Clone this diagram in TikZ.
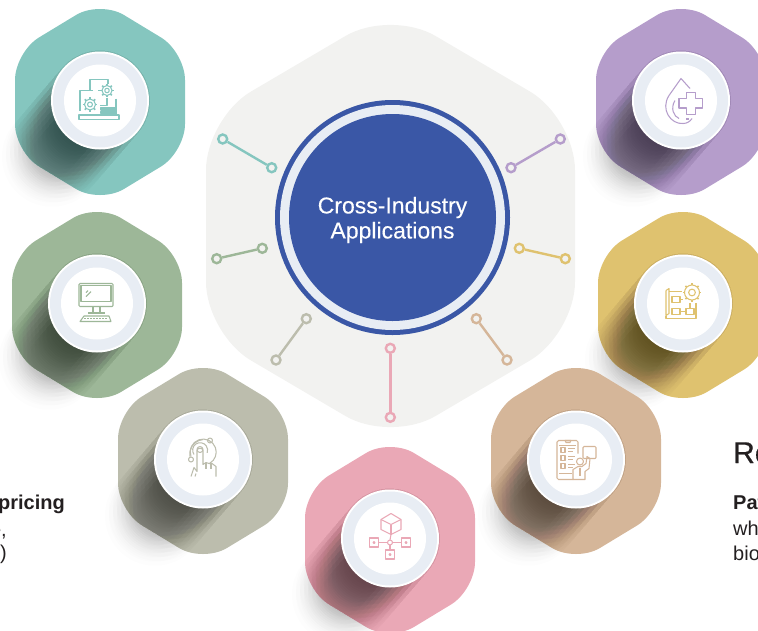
\documentclass[tikz,border=0pt]{standalone}
\usepackage{fontspec}
\setmainfont{Liberation Sans}
\newfontfamily\mediumfont[FakeBold=0.25]{Liberation Sans}
\newfontfamily\headfont[FakeBold=0.6]{Liberation Sans}
\usetikzlibrary{calc}

\definecolor{tealhex}{HTML}{85C6BF}
\definecolor{purplehex}{HTML}{B59DCB}
\definecolor{greenhex}{HTML}{9DB798}
\definecolor{yellowhex}{HTML}{DFC26F}
\definecolor{khakihex}{HTML}{BCBDAD}
\definecolor{tanhex}{HTML}{D5B699}
\definecolor{pinkhex}{HTML}{EAA8B6}
\definecolor{corehex}{HTML}{F2F2F0}
\definecolor{coreblue}{HTML}{3A57A6}
\definecolor{ringblue}{HTML}{E8EDF4}
\definecolor{inktext}{HTML}{231F20}

\tikzset{
	dotcap/.style={circle, draw=#1, fill=corehex, line width=2.4pt, minimum size=9pt, inner sep=0pt},
	spoke/.style={#1, line width=2.4pt},
	iconline/.style={draw=#1, line width=1.05pt, line join=round},
	cut/.style={text=inktext, inner sep=0pt, font=\fontsize{20}{20}\selectfont}
}

% hexagon with shadow and ring: name, x, y, colour
\newcommand{\hexcard}[4]{
	\fill[#4, rounded corners=28pt] (#2,#3-101.5) -- (#2+85,#3-50) -- (#2+85,#3+50) -- (#2,#3+101.5) -- (#2-85,#3+50) -- (#2-85,#3-50) -- cycle;
	\foreach \d in {20,26,...,74}
		\foreach \r in {50,46,42,38,34,30,26,22}
			\draw[black, draw opacity=0.0085, line cap=round, line width=2*\r pt] (#2,#3-1.5) -- ({#2-\d*0.65},{#3-1.5+\d*0.76});
	\node[circle, fill=white, minimum size=98pt, inner sep=0pt] (#1) at (#2,#3-1.5) {};
	\fill[ringblue] (#1) circle[radius=47pt];
	\fill[white] (#1) circle[radius=36pt];
}
% gear: x, y, radius
\newcommand{\gearmark}[3]{
	\draw (#1,#2) circle[radius=#3 pt];
	\draw (#1,#2) circle[radius=#3*0.45 pt];
	\foreach \a in {0,45,...,315}
		\draw[line width=1.7pt] ($(#1,#2)+(\a:#3 pt)$) -- ($(#1,#2)+(\a:#3 pt+1.8pt)$);
}

\begin{document}
\begin{tikzpicture}[x=1pt, y=-1pt]
	\useasboundingbox (0,0) rectangle (758,630);

	%Grosses Sechseck
	\fill[corehex, rounded corners=52pt] (390.5,9.5) -- (575,118) -- (575,334) -- (390.5,442.5) -- (206,334) -- (206,118) -- cycle;

	%Sechsecke
	\hexcard{teal}{100}{102}{tealhex}
	\hexcard{purple}{681}{102}{purplehex}
	\hexcard{green}{97}{305}{greenhex}
	\hexcard{yellow}{683}{305}{yellowhex}
	\hexcard{khaki}{203}{461}{khakihex}
	\hexcard{tan}{576}{461}{tanhex}
	\hexcard{pink}{390}{540}{pinkhex}

	%Kreis in der Mitte
	\node[circle, fill=coreblue, minimum size=235pt, inner sep=0pt] (core) at (392.5,217.5) {};
	\fill[ringblue] (core) circle[radius=112.5pt];
	\fill[coreblue] (core) circle[radius=103.5pt];
	\node[text=white, align=center, font=\mediumfont\fontsize{23}{25}\selectfont] (coretext) at (392.5,220) {Cross-Industry\\Applications};

	%Speichen
	\foreach \name/\col/\ax/\ay/\bx/\by in {
		a/tealhex/222.7/139/271.7/167.7,
		b/greenhex/216.7/258.7/262.3/248.3,
		c/khakihex/306.3/318.7/276/360,
		d/pinkhex/390.3/348.3/390.3/417.3,
		e/tanhex/476.3/318.7/507/360,
		f/yellowhex/519.3/248.3/565.3/258.7,
		g/purplehex/511/167.7/560.3/139}
	{
		\node[dotcap=\col] (\name1) at (\ax,\ay) {};
		\node[dotcap=\col] (\name2) at (\bx,\by) {};
		\draw[spoke=\col] (\name1) -- (\name2);
	}

	%Laptop mit Zahnraedern
	\begin{scope}[shift={(teal)}, every path/.append style={iconline=tealhex}]
		\draw (-20,10) -- (-20,-10) -- (-7,-10);
		\draw (-2,-10) -- (0,-10);
		\draw (16,-2) -- (16,14) -- (-20,14);
		\draw (-21,14.5) -- (19,14.5) -- (19,19) -- (-21,19) -- cycle;
		\draw (-10,-10) -- (-10,-21) -- (8,-21) -- (8,-17);
		\draw (7,-3) -- (7,5) -- (0,5);
		\gearmark{-10}{4}{5.5}
		\gearmark{7}{-10}{5}
		\fill[tealhex] (1,7) rectangle (16,9.5);
		\fill[tealhex] (1,11) rectangle (16,13);
	\end{scope}

	%Tropfen mit Kreuz
	\begin{scope}[shift={(purple)}, every path/.append style={iconline=purplehex}]
		\draw (9,-12) -- (0,-22) -- (-12,-5) .. controls (-21,9) and (-10,24) .. (2,23) .. controls (6,23) and (9,21) .. (11,18);
		\draw (-6,0) .. controls (-11,8) and (-7,16) .. (-2,18);
		\draw (5,18.5) -- (8,18.5);
		\draw (5.5,-8) -- (14.5,-8) -- (14.5,-2) -- (21.5,-2) -- (21.5,7.5) -- (14.5,7.5) -- (14.5,14) -- (5.5,14) -- (5.5,7.5) -- (-2,7.5) -- (-2,-2) -- (5.5,-2) -- cycle;
	\end{scope}

	%Bildschirm
	\begin{scope}[shift={(green)}, every path/.append style={iconline=greenhex}]
		\draw[rounded corners=1pt] (-18,-20) rectangle (16,3);
		\draw (-16,-18) rectangle (14,-2);
		\draw (-11,-7) -- (-6,-12);
		\draw (-11,-11) -- (-9,-13);
		\draw (-4,3) -- (-4,9);
		\draw (3,3) -- (3,9);
		\draw (-9,9.5) -- (8,9.5);
		\draw (-13,12.5) -- (12,12.5) -- (14,18) -- (-17,18) -- cycle;
		\draw[dash pattern=on 1.5pt off 1.5pt] (-13,15) -- (11,15);
	\end{scope}

	%Plan mit Zahnrad
	\begin{scope}[shift={(yellow)}, every path/.append style={iconline=yellowhex}]
		\draw (-17,-13) -- (-14,-15) -- (-14,10) -- (-17,12) -- (-17,-13);
		\draw (-17,12) -- (-17,15) -- (13,15) -- (13,-1);
		\draw (-14,-12) -- (-1,-12);
		\draw (-11,-7) rectangle (-3,-1);
		\draw (-11,5) rectangle (-3,11);
		\draw (3,5) rectangle (11,11);
		\draw (-3,8) -- (3,8);
		\draw (7,5) -- (7,-1);
		\draw (-3,-4) -- (0,-4);
		\gearmark{9}{-11}{7.5}
	\end{scope}

	%Finger
	\begin{scope}[shift={(khaki)}, every path/.append style={iconline=khakihex}]
		\draw (-3,-10) circle[radius=3pt];
		\draw (-9,-5) arc[start angle=215, end angle=-20, radius=7.5pt];
		\draw (-12,-3) arc[start angle=200, end angle=-60, radius=13pt];
		\draw (-13,-3) arc[start angle=190, end angle=95, radius=14.5pt];
		\draw (7,-19) circle[radius=2.5pt];
		\draw (-12,0) circle[radius=2.5pt];
		\draw (-12,17) -- (-9,8) -- (-6,12) -- (-6,-9) .. controls (-6,-12) and (0,-12) .. (0,-9) -- (0,5) -- (3,3) -- (6,4) -- (9,4) -- (13,7) -- (13,17);
		\draw (-8,17) -- (-7,14);
		\draw (3,3) -- (3,9);
		\draw (8,4) -- (8,9);
	\end{scope}

	%Telefon mit Person
	\begin{scope}[shift={(tan)}, every path/.append style={iconline=tanhex}]
		\draw[rounded corners=1.5pt] (2,-6) -- (2,-19) -- (-19,-19) -- (-19,20) -- (-3,20);
		\draw (-17,-14) -- (0,-14);
		\draw (-17,14) -- (-4,14);
		\draw (-11,-19) -- (-5,-19) -- (-6,-17) -- (-10,-17) -- cycle;
		\foreach \v in {-12,-4,4}
		{
			\draw (-15,\v) rectangle (-11,\v+5);
			\draw (-8,\v+1) -- (-1,\v+1);
			\draw (-8,\v+4) -- (-3,\v+4);
		}
		\draw (4,2) circle[radius=3.5pt];
		\draw (-3,20) -- (-3,10) -- (2,7) -- (6,7) -- (10,4) -- (11,-3) -- (14,-1) -- (13,9) -- (9,12) -- (9,20) -- cycle;
		\draw (4,8) -- (4,16);
		\draw[rounded corners=1pt] (7,-13) rectangle (20,-1);
	\end{scope}

	%Wuerfel mit Knoten
	\begin{scope}[shift={(pink)}, every path/.append style={iconline=pinkhex}]
		\draw (1,-25) -- (11,-19) -- (11,-9) -- (1,-4) -- (-9,-9) -- (-9,-19) -- cycle;
		\draw (-9,-19) -- (1,-14) -- (11,-19);
		\draw (1,-14) -- (1,-4);
		\draw (1,-4) -- (0,1.5);
		\draw (0,4) circle[radius=2.5pt];
		\draw (-11,4) -- (-2.5,4);
		\draw (2.5,4) -- (11,4);
		\draw (0,6.5) -- (0,11.5);
		\foreach \px/\py in {-16/4,16/4,0/16}
		{
			\draw (\px-4.5,\py-4.5) rectangle (\px+4.5,\py+4.5);
			\fill[pinkhex] (\px,\py) circle[radius=1pt];
		}
	\end{scope}

	%Abgeschnittene Texte
	\node[cut, anchor=base east, font=\bfseries\fontsize{20}{20}\selectfont] (pricing) at (65,509) {pricing};
	\node[cut, anchor=base east] (commaline) at (7,536) {e,};
	\node[cut, anchor=base east] (parenline) at (7,559) {)};
	\node[cut, anchor=base west, font=\headfont\fontsize{30}{30}\selectfont] (rehead) at (733,463) {Re};
	\node[cut, anchor=base west, font=\bfseries\fontsize{20}{20}\selectfont] (paline) at (733,509) {Pat};
	\node[cut, anchor=base west] (whline) at (733,535) {whi};
	\node[cut, anchor=base west] (bioline) at (733,560) {bio};
\end{tikzpicture}
\end{document}
